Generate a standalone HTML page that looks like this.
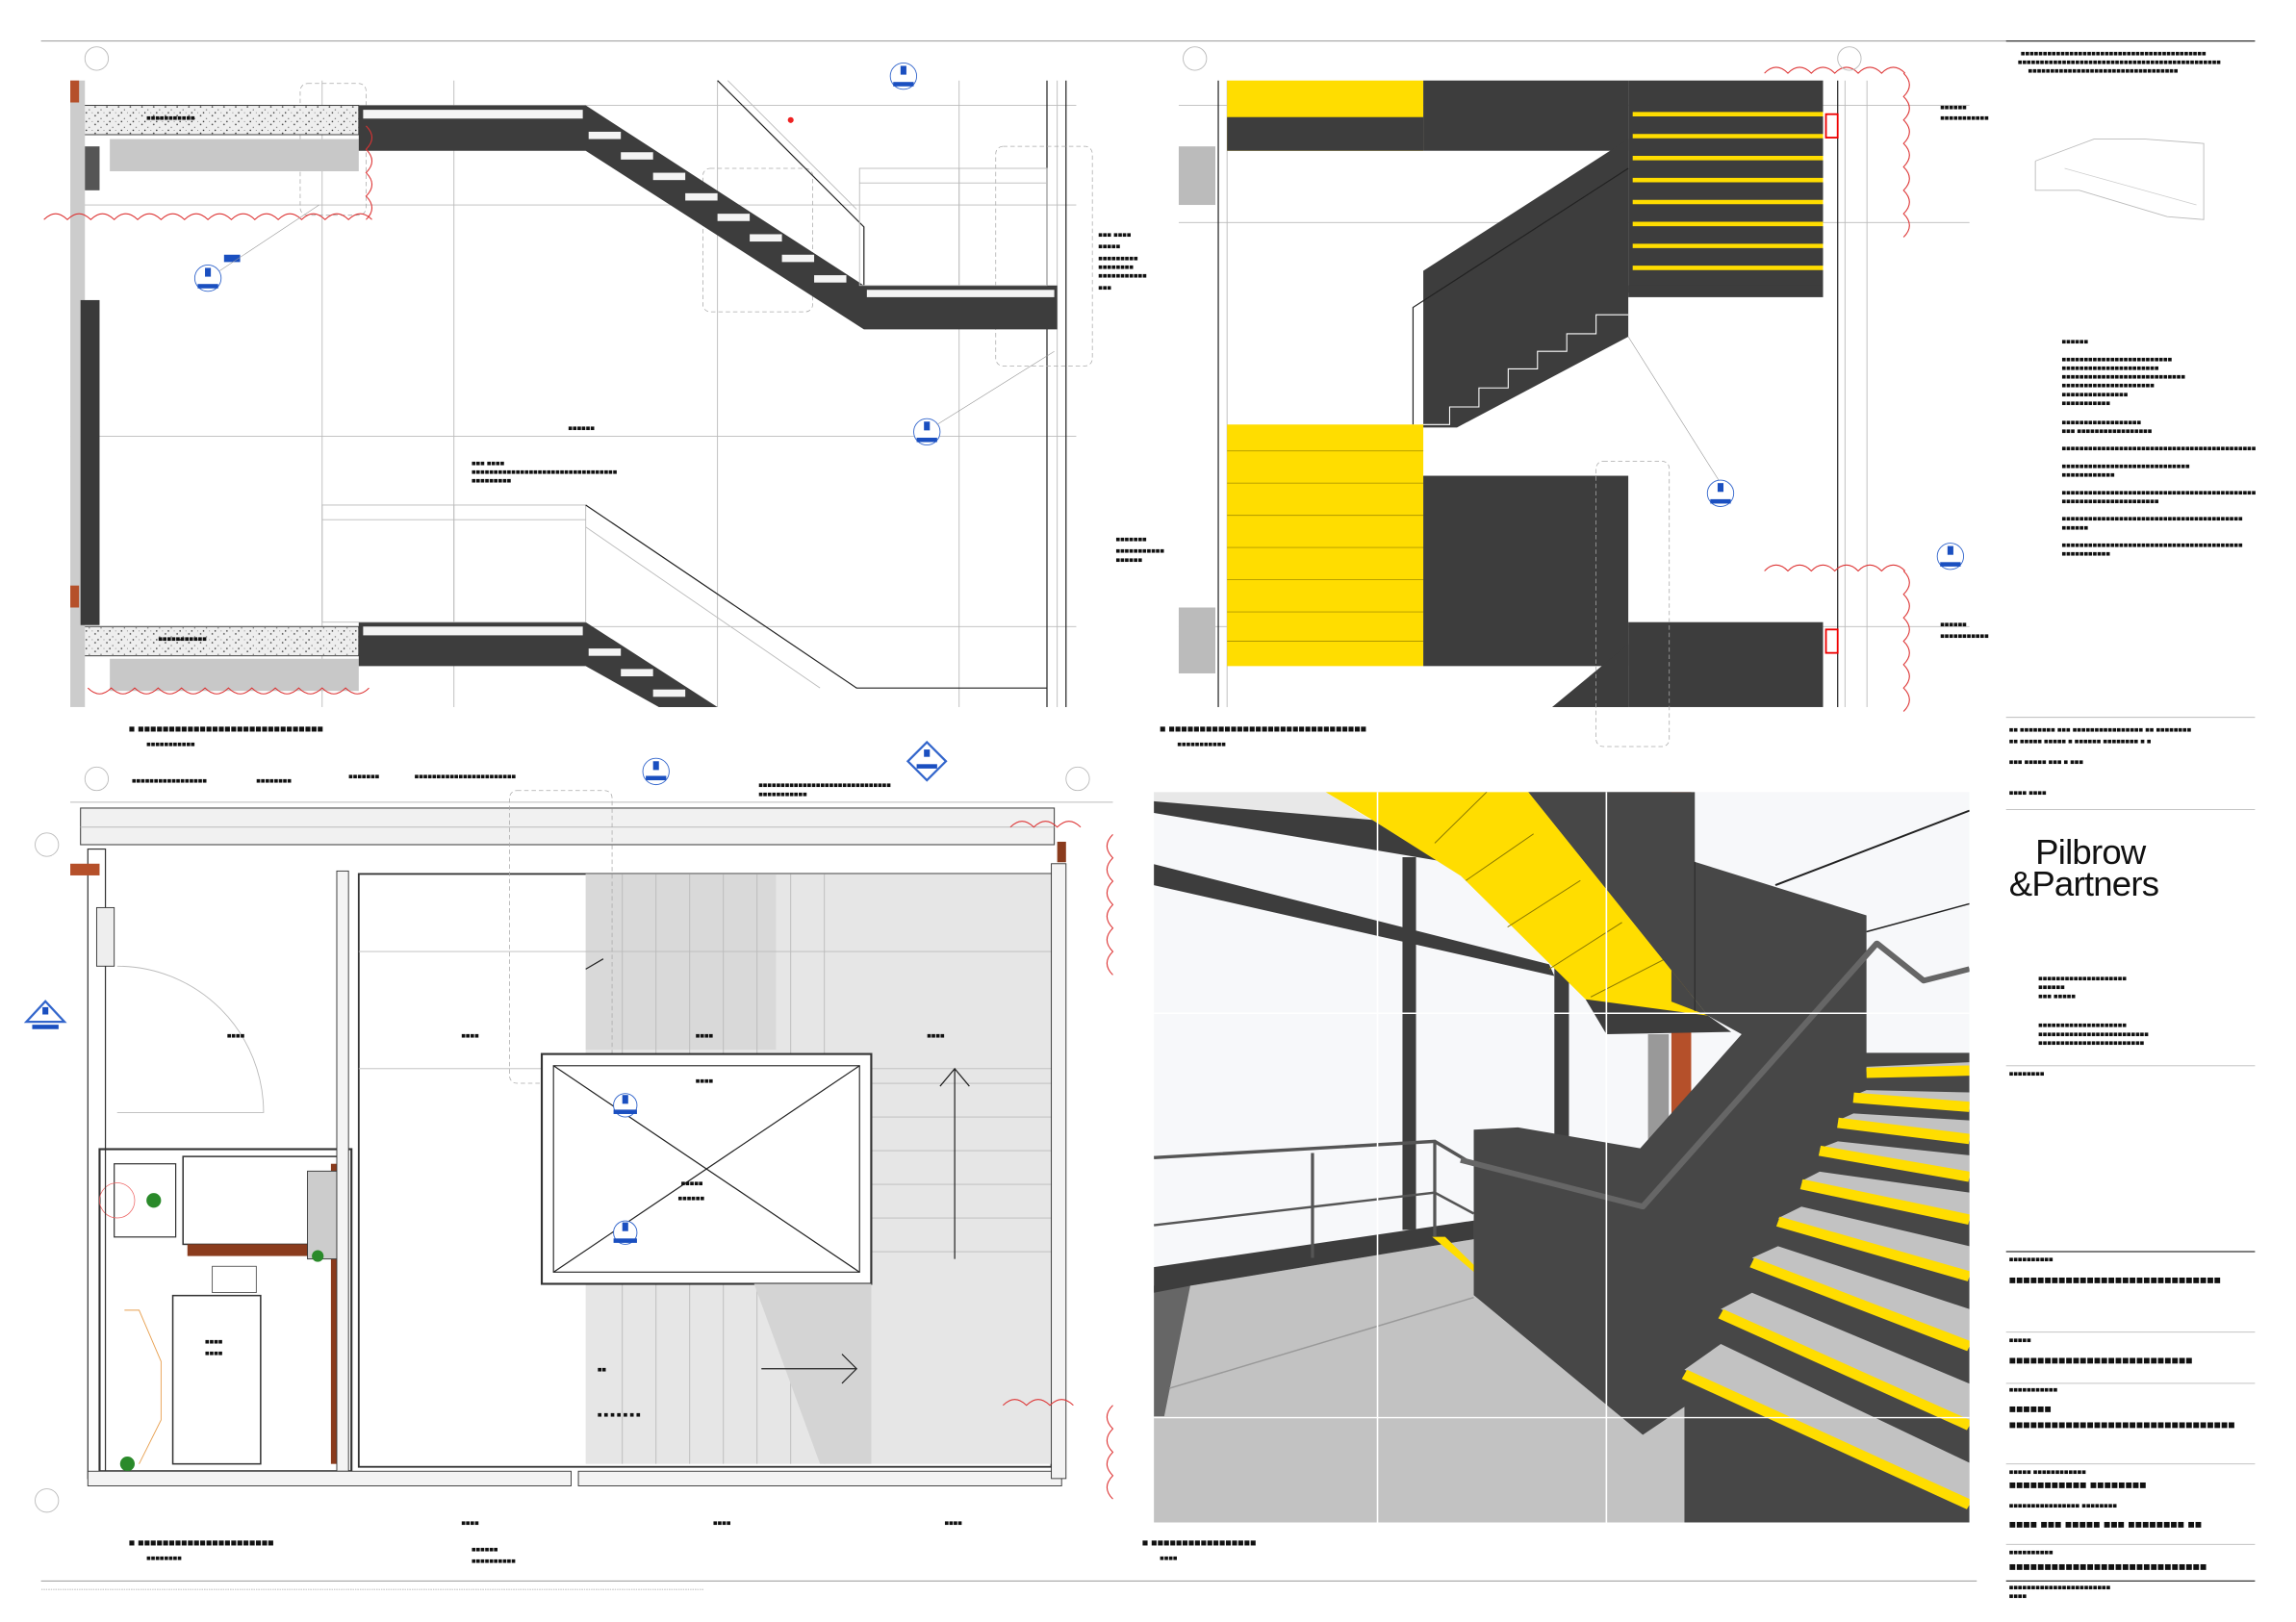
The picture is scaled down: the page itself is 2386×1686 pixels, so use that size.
<!DOCTYPE html>
<html><head><meta charset="utf-8"><style>
html,body{margin:0;padding:0;background:#fff;}
svg{display:block;}
text{font-family:"Liberation Sans",sans-serif;}
.t{font-size:5px;fill:#111;}
.g{stroke:#bbb;stroke-width:.6;fill:none;}
.k{stroke:#222;stroke-width:.8;fill:none;}
.r{stroke:#d33;stroke-width:.7;fill:none;}
</style></head><body>
<svg width="2386" height="1686" viewBox="0 0 1568 1108" preserveAspectRatio="none" xmlns="http://www.w3.org/2000/svg">
<defs>
<pattern id="sp" width="8" height="6" patternUnits="userSpaceOnUse"><rect width="8" height="6" fill="#eee"/><circle cx="1" cy="1" r=".5" fill="#333"/><circle cx="5" cy="3" r=".4" fill="#555"/><circle cx="3" cy="5" r=".5" fill="#222"/><circle cx="7" cy="5" r=".3" fill="#444"/></pattern>
</defs>
<rect width="1568" height="1108" fill="#fff"/>
<line x1="28" y1="28" x2="1540" y2="28" stroke="#999" stroke-width=".6"/>
<line x1="28" y1="1080" x2="1350" y2="1080" stroke="#999" stroke-width=".6"/>
<text x="28" y="1086" class="t" style="font-size:4px;fill:#666">........................................................................................................................................................................................................................................................................................................................................................................................................................</text>

<!-- ===== Top-left section ===== -->
<g>
<line x1="48" y1="72" x2="735" y2="72" class="g"/><line x1="48" y1="428" x2="735" y2="428" class="g"/>
<line x1="48" y1="140" x2="735" y2="140" class="g"/><line x1="48" y1="298" x2="735" y2="298" class="g"/>
<line x1="220" y1="55" x2="220" y2="483" class="g"/><line x1="310" y1="55" x2="310" y2="483" class="g"/>
<line x1="490" y1="55" x2="490" y2="483" class="g"/><line x1="655" y1="55" x2="655" y2="483" class="g"/>
<line x1="715" y1="55" x2="715" y2="483" class="k"/><line x1="722" y1="55" x2="722" y2="483" class="g"/>
<line x1="728" y1="55" x2="728" y2="483" class="k"/>
<rect x="205" y="57" width="45" height="90" rx="5" fill="none" stroke="#aaa" stroke-width=".5" stroke-dasharray="3,2"/>
<rect x="480" y="115" width="75" height="98" rx="5" fill="none" stroke="#aaa" stroke-width=".5" stroke-dasharray="3,2"/>
<rect x="680" y="100" width="66" height="150" rx="5" fill="none" stroke="#aaa" stroke-width=".5" stroke-dasharray="3,2"/>
<rect x="55" y="72" width="190" height="20" fill="url(#sp)" stroke="#333" stroke-width=".6"/>
<rect x="75" y="95" width="170" height="22" fill="#c8c8c8"/>
<rect x="55" y="428" width="190" height="20" fill="url(#sp)" stroke="#333" stroke-width=".6"/>
<rect x="75" y="450" width="170" height="22" fill="#c8c8c8"/>
<rect x="48" y="55" width="10" height="428" fill="#ccc"/>
<rect x="55" y="205" width="13" height="222" fill="#3a3a3a"/>
<rect x="58" y="100" width="10" height="30" fill="#555"/>
<rect x="48" y="55" width="6" height="15" fill="#b5502a"/><rect x="48" y="400" width="6" height="15" fill="#b5502a"/>
<polygon points="245,72 400,72 590,195 722,195 722,225 590,225 400,103 245,103" fill="#3d3d3d"/>
<rect x="248" y="75" width="150" height="6" fill="#f4f4f4"/>
<polygon points="245,425 400,425 490,483 450,483 400,455 245,455" fill="#3d3d3d"/>
<rect x="248" y="428" width="150" height="6" fill="#f4f4f4"/>
<g fill="#f4f4f4"><rect x="402" y="90" width="22" height="5"/><rect x="424" y="104" width="22" height="5"/><rect x="446" y="118" width="22" height="5"/><rect x="468" y="132" width="22" height="5"/><rect x="490" y="146" width="22" height="5"/><rect x="512" y="160" width="22" height="5"/><rect x="534" y="174" width="22" height="5"/><rect x="556" y="188" width="22" height="5"/><rect x="592" y="198" width="128" height="5"/>
<rect x="402" y="443" width="22" height="5"/><rect x="424" y="457" width="22" height="5"/><rect x="446" y="471" width="22" height="5"/></g>
<polyline points="490,55 590,155 590,195" class="k"/><polyline points="497,55 585,143" class="g"/>
<rect x="587" y="115" width="128" height="80" class="g" stroke="#888"/>
<line x1="587" y1="125" x2="715" y2="125" class="g"/><line x1="655" y1="115" x2="655" y2="195" class="g"/>
<rect x="220" y="345" width="180" height="80" class="g" stroke="#888"/>
<line x1="220" y1="355" x2="400" y2="355" class="g"/><line x1="310" y1="345" x2="310" y2="425" class="g"/>
<polyline points="400,345 585,470 715,470" class="k"/><polyline points="400,360 560,470" class="g"/>
<path d="M30,150 q8,-8 16,0 q8,-8 16,0 q8,-8 16,0 q8,-8 16,0 q8,-8 16,0 q8,-8 16,0 q8,-8 16,0 q8,-8 16,0 q8,-8 16,0 q8,-8 16,0 q8,-8 16,0 q8,-8 16,0 q8,-8 16,0 q8,-8 16,0 M250,150 q8,-8 0,-16 q8,-8 0,-16 q8,-8 0,-16 q8,-8 0,-16" class="r"/>
<path d="M60,470 q8,8 16,0 q8,8 16,0 q8,8 16,0 q8,8 16,0 q8,8 16,0 q8,8 16,0 q8,8 16,0 q8,8 16,0 q8,8 16,0 q8,8 16,0 q8,8 16,0 q8,8 16,0" class="r"/>
<circle cx="66" cy="40" r="8" class="g" stroke="#888"/>
<g fill="#fff" stroke="#36c" stroke-width=".6"><circle cx="617" cy="52" r="9"/><circle cx="142" cy="190" r="9"/><circle cx="633" cy="295" r="9"/></g>
<g fill="#1a4fc0"><rect x="615" y="45" width="4" height="6"/><rect x="610" y="56" width="14" height="3"/><rect x="140" y="183" width="4" height="6"/><rect x="135" y="194" width="14" height="3"/><rect x="631" y="288" width="4" height="6"/><rect x="626" y="299" width="14" height="3"/><rect x="153" y="174" width="11" height="5"/></g>
<line x1="150" y1="185" x2="218" y2="140" stroke="#999" stroke-width=".4"/>
<line x1="640" y1="290" x2="720" y2="240" stroke="#999" stroke-width=".4"/>
<circle cx="540" cy="82" r="2" fill="#e22"/>
<text x="100" y="82" class="t">■■■■■■■■■■■</text>
<text x="388" y="294" class="t">■■■■■■</text>
<text x="322" y="318" class="t">■■■ ■■■■</text><text x="322" y="324" class="t">■■■■■■■■■■■■■■■■■■■■■■■■■■■■■■■■■</text><text x="322" y="330" class="t">■■■■■■■■■</text>
<text x="108" y="438" class="t">■■■■■■■■■■■</text>
<text x="88" y="500" class="t" style="font-size:7px">■ ■■■■■■■■■■■■■■■■■■■■■■■■■■■■■■</text>
<text x="100" y="510" class="t">■■■■■■■■■■■</text>
<text x="750" y="162" class="t">■■■ ■■■■</text><text x="750" y="170" class="t">■■■■■</text><text x="750" y="178" class="t">■■■■■■■■■</text><text x="750" y="184" class="t">■■■■■■■■</text><text x="750" y="190" class="t">■■■■■■■■■■■</text><text x="750" y="198" class="t">■■■</text>
</g>

<!-- ===== Top-right section ===== -->
<g>
<line x1="805" y1="72" x2="1345" y2="72" class="g"/><line x1="805" y1="428" x2="1345" y2="428" class="g"/>
<line x1="805" y1="152" x2="1345" y2="152" class="g"/>
<line x1="832" y1="55" x2="832" y2="483" class="k"/><line x1="838" y1="55" x2="838" y2="483" class="g"/>
<line x1="1255" y1="55" x2="1255" y2="483" class="k"/><line x1="1260" y1="55" x2="1260" y2="483" class="g"/>
<line x1="1275" y1="55" x2="1275" y2="483" class="g"/>
<rect x="805" y="100" width="25" height="40" fill="#bbb"/><rect x="805" y="415" width="25" height="45" fill="#bbb"/>
<rect x="838" y="55" width="134" height="48" fill="#ffdd00"/>
<rect x="838" y="80" width="134" height="23" fill="#3d3d3d"/>
<rect x="972" y="55" width="140" height="48" fill="#3d3d3d"/>
<rect x="1112" y="55" width="133" height="145" fill="#3d3d3d"/>
<g stroke="#ffdd00" stroke-width="3">
<line x1="1115" y1="78" x2="1245" y2="78"/><line x1="1115" y1="93" x2="1245" y2="93"/><line x1="1115" y1="108" x2="1245" y2="108"/><line x1="1115" y1="123" x2="1245" y2="123"/><line x1="1115" y1="138" x2="1245" y2="138"/><line x1="1115" y1="153" x2="1245" y2="153"/><line x1="1115" y1="168" x2="1245" y2="168"/><line x1="1115" y1="183" x2="1245" y2="183"/>
<line x1="1115" y1="433" x2="1245" y2="433"/><line x1="1115" y1="448" x2="1245" y2="448"/><line x1="1115" y1="463" x2="1245" y2="463"/><line x1="1115" y1="478" x2="1245" y2="478"/>
</g>
<polygon points="972,185 1112,95 1112,230 995,292 972,292" fill="#3d3d3d"/>
<polyline points="972,290 990,290 990,278 1010,278 1010,265 1030,265 1030,252 1050,252 1050,240 1070,240 1070,228 1090,228 1090,215 1112,215" stroke="#fff" stroke-width=".7" fill="none"/>
<polyline points="965,290 965,210 1112,115" class="k" stroke-width=".6"/>
<rect x="1112" y="195" width="133" height="8" fill="#3d3d3d"/>
<rect x="838" y="290" width="134" height="165" fill="#ffdd00"/>
<g stroke="#b09800" stroke-width=".6"><line x1="838" y1="308" x2="972" y2="308"/><line x1="838" y1="330" x2="972" y2="330"/><line x1="838" y1="352" x2="972" y2="352"/><line x1="838" y1="374" x2="972" y2="374"/><line x1="838" y1="396" x2="972" y2="396"/><line x1="838" y1="418" x2="972" y2="418"/><line x1="838" y1="438" x2="972" y2="438"/></g>
<rect x="972" y="325" width="140" height="130" fill="#3d3d3d"/>
<rect x="1112" y="425" width="133" height="58" fill="#3d3d3d"/>
<polygon points="1060,483 1112,440 1112,483" fill="#3d3d3d"/>
<rect x="1090" y="315" width="50" height="195" rx="5" fill="none" stroke="#aaa" stroke-width=".5" stroke-dasharray="3,2"/>
<line x1="1112" y1="230" x2="1175" y2="330" stroke="#999" stroke-width=".4"/>
<rect x="1247" y="78" width="8" height="16" fill="none" stroke="#e00" stroke-width="1.2"/>
<rect x="1247" y="430" width="8" height="16" fill="none" stroke="#e00" stroke-width="1.2"/>
<path d="M1205,50 q8,-8 16,0 q8,-8 16,0 q8,-8 16,0 q8,-8 16,0 q8,-8 16,0 q8,-8 16,0 M1300,50 q8,8 0,16 q8,8 0,16 q8,8 0,16 q8,8 0,16 q8,8 0,16 q8,8 0,16 q8,8 0,16" class="r"/>
<path d="M1205,390 q8,-8 16,0 q8,-8 16,0 q8,-8 16,0 q8,-8 16,0 q8,-8 16,0 q8,-8 16,0 M1300,390 q8,8 0,16 q8,8 0,16 q8,8 0,16 q8,8 0,16 q8,8 0,16 q8,8 0,16" class="r"/>
<circle cx="816" cy="40" r="8" class="g" stroke="#888"/><circle cx="1263" cy="40" r="8" class="g" stroke="#888"/>
<g fill="#fff" stroke="#36c" stroke-width=".6"><circle cx="1175" cy="337" r="9"/><circle cx="1332" cy="380" r="9"/></g>
<g fill="#1a4fc0"><rect x="1173" y="330" width="4" height="6"/><rect x="1168" y="341" width="14" height="3"/><rect x="1330" y="373" width="4" height="6"/><rect x="1325" y="384" width="14" height="3"/></g>
<text x="1325" y="75" class="t">■■■■■■</text><text x="1325" y="82" class="t">■■■■■■■■■■■</text>
<text x="1325" y="428" class="t">■■■■■■</text><text x="1325" y="436" class="t">■■■■■■■■■■■</text>
<text x="762" y="370" class="t">■■■■■■■</text><text x="762" y="378" class="t">■■■■■■■■■■■</text><text x="762" y="384" class="t">■■■■■■</text>
<text x="792" y="500" class="t" style="font-size:7px">■ ■■■■■■■■■■■■■■■■■■■■■■■■■■■■■■■■</text>
<text x="804" y="510" class="t">■■■■■■■■■■■</text>
</g>

<!-- ===== Bottom-left plan ===== -->
<g>
<line x1="48" y1="548" x2="760" y2="548" class="g"/>
<rect x="55" y="552" width="665" height="25" fill="#f1f1f1" stroke="#444" stroke-width=".7"/>
<line x1="55" y1="565" x2="720" y2="565" class="g"/>
<rect x="245" y="597" width="473" height="405" fill="#fff" stroke="#333" stroke-width="1.2"/>
<rect x="400" y="597" width="318" height="403" fill="#e6e6e6"/>
<rect x="400" y="597" width="130" height="120" fill="#d9d9d9"/>
<g class="g"><line x1="425" y1="597" x2="425" y2="1000"/><line x1="448" y1="597" x2="448" y2="1000"/><line x1="471" y1="597" x2="471" y2="1000"/><line x1="494" y1="597" x2="494" y2="1000"/><line x1="517" y1="597" x2="517" y2="1000"/><line x1="540" y1="597" x2="540" y2="1000"/><line x1="563" y1="597" x2="563" y2="1000"/>
<line x1="595" y1="740" x2="718" y2="740"/><line x1="595" y1="763" x2="718" y2="763"/><line x1="595" y1="786" x2="718" y2="786"/><line x1="595" y1="809" x2="718" y2="809"/><line x1="595" y1="832" x2="718" y2="832"/><line x1="595" y1="855" x2="718" y2="855"/>
<line x1="245" y1="650" x2="718" y2="650"/><line x1="245" y1="730" x2="718" y2="730"/></g>
<rect x="348" y="540" width="70" height="200" rx="5" fill="none" stroke="#aaa" stroke-width=".5" stroke-dasharray="3,2"/>
<rect x="370" y="720" width="225" height="157" fill="#fff" stroke="#333" stroke-width="1.4"/>
<rect x="378" y="728" width="209" height="141" fill="#fff" stroke="#333" stroke-width=".8"/>
<line x1="378" y1="728" x2="587" y2="869" class="k" stroke-width=".5"/><line x1="587" y1="728" x2="378" y2="869" class="k" stroke-width=".5"/>
<polygon points="515,877 595,877 595,1000 560,1000" fill="#d4d4d4"/>
<polyline points="400,662 412,655 M400,662 412,669" class="k"/>
<line x1="652" y1="730" x2="652" y2="860" class="k" stroke-width=".5"/><polyline points="642,742 652,730 662,742" class="k" stroke-width=".5"/>
<line x1="520" y1="935" x2="585" y2="935" class="k" stroke-width=".5"/><polyline points="575,925 585,935 575,945" class="k" stroke-width=".5"/>
<rect x="68" y="785" width="172" height="220" fill="none" stroke="#333" stroke-width="1.4"/>
<rect x="125" y="790" width="110" height="60" fill="none" stroke="#333"/>
<rect x="128" y="850" width="97" height="8" fill="#8a3b1d"/>
<rect x="226" y="795" width="5" height="205" fill="#8a3b1d"/>
<rect x="210" y="800" width="20" height="60" fill="#ccc" stroke="#333" stroke-width=".6"/>
<rect x="78" y="795" width="42" height="50" fill="none" stroke="#333" stroke-width=".8"/>
<circle cx="80" cy="820" r="12" fill="none" stroke="#e66" stroke-width=".5"/>
<circle cx="105" cy="820" r="5" fill="#2a8a2a"/>
<circle cx="87" cy="1000" r="5" fill="#2a8a2a"/><circle cx="217" cy="858" r="4" fill="#2a8a2a"/>
<polyline points="85,895 95,895 110,930 110,970 95,1000" fill="none" stroke="#e8a050" stroke-width=".6"/>
<rect x="118" y="885" width="60" height="115" fill="#fff" stroke="#333"/>
<rect x="145" y="865" width="30" height="18" fill="none" stroke="#333" stroke-width=".5"/>
<rect x="230" y="595" width="8" height="410" fill="#f4f4f4" stroke="#333" stroke-width=".6"/>
<rect x="60" y="580" width="12" height="430" fill="none" stroke="#333" stroke-width=".8"/>
<rect x="66" y="620" width="12" height="40" fill="#eee" stroke="#333" stroke-width=".6"/>
<rect x="48" y="590" width="20" height="8" fill="#b5502a"/>
<path d="M80,660 A100,100 0 0 1 180,760 L80,760" class="g" stroke="#888"/>
<rect x="60" y="1005" width="330" height="10" fill="#f3f3f3" stroke="#333" stroke-width=".6"/>
<rect x="395" y="1005" width="330" height="10" fill="#f3f3f3" stroke="#333" stroke-width=".6"/>
<rect x="718" y="590" width="10" height="420" fill="#f3f3f3" stroke="#333" stroke-width=".6"/>
<rect x="722" y="575" width="6" height="14" fill="#8a3b1d"/>
<path d="M690,565 q8,-8 16,0 q8,-8 16,0 q8,-8 16,0 M760,570 q-8,8 0,16 q-8,8 0,16 q-8,8 0,16 q-8,8 0,16 q-8,8 0,16 q-8,8 0,16 M685,960 q8,-8 16,0 q8,-8 16,0 q8,-8 16,0 M760,960 q-8,8 0,16 q-8,8 0,16 q-8,8 0,16 q-8,8 0,16" class="r"/>
<circle cx="66" cy="532" r="8" class="g" stroke="#888"/><circle cx="736" cy="532" r="8" class="g" stroke="#888"/>
<circle cx="32" cy="577" r="8" class="g" stroke="#888"/><circle cx="32" cy="1025" r="8" class="g" stroke="#888"/>
<circle cx="448" cy="527" r="9" fill="#fff" stroke="#36c" stroke-width=".6"/>
<polygon points="620,520 633,507 646,520 633,533" fill="#fff" stroke="#36c" stroke-width="1.5"/>
<polygon points="18,698 31,684 44,698" fill="#fff" stroke="#36c" stroke-width="1.5"/>
<circle cx="427" cy="755" r="8" fill="#fff" stroke="#36c" stroke-width=".6"/>
<circle cx="427" cy="842" r="8" fill="#fff" stroke="#36c" stroke-width=".6"/>
<g fill="#1a4fc0"><rect x="446" y="520" width="4" height="6"/><rect x="441" y="530" width="14" height="3"/><rect x="425" y="748" width="4" height="6"/><rect x="419" y="758" width="16" height="3"/><rect x="425" y="835" width="4" height="6"/><rect x="419" y="846" width="16" height="3"/><rect x="631" y="512" width="4" height="5"/><rect x="626" y="522" width="14" height="3"/><rect x="29" y="688" width="4" height="5"/><rect x="22" y="700" width="18" height="3"/></g>
<text x="90" y="535" class="t">■■■■■■■■■■■■■■■■■</text><text x="175" y="535" class="t">■■■■■■■■</text><text x="238" y="532" class="t">■■■■■■■</text><text x="283" y="532" class="t">■■■■■■■■■■■■■■■■■■■■■■■</text><text x="518" y="538" class="t">■■■■■■■■■■■■■■■■■■■■■■■■■■■■■■</text><text x="518" y="544" class="t">■■■■■■■■■■■</text>
<text x="155" y="709" class="t">■■■■</text><text x="315" y="709" class="t">■■■■</text><text x="475" y="709" class="t">■■■■</text><text x="633" y="709" class="t">■■■■</text>
<text x="475" y="740" class="t">■■■■</text><text x="465" y="810" class="t">■■■■■</text><text x="463" y="820" class="t">■■■■■■</text>
<text x="140" y="918" class="t">■■■■</text><text x="140" y="926" class="t">■■■■</text>
<text x="408" y="937" class="t">■■</text><text x="408" y="968" class="t">■   ■   ■   ■   ■   ■   ■</text>
<text x="88" y="1056" class="t" style="font-size:7px">■ ■■■■■■■■■■■■■■■■■■■■■■</text>
<text x="100" y="1066" class="t">■■■■■■■■</text><text x="322" y="1060" class="t">■■■■■■</text><text x="322" y="1068" class="t">■■■■■■■■■■</text>
<text x="315" y="1042" class="t">■■■■</text><text x="487" y="1042" class="t">■■■■</text><text x="645" y="1042" class="t">■■■■</text>
</g>

<!-- ===== 3D render ===== -->
<svg x="788" y="541" width="557" height="499" viewBox="0 0 1568 1568" preserveAspectRatio="none">
<rect width="1568" height="1568" fill="#f7f8fa"/>
<!-- top band & frames -->
<polygon points="0,0 330,0 590,180 560,140 0,20" fill="#e8e8e8"/>
<polygon points="0,20 420,60 600,185 560,150 0,45" fill="#3d3d3d"/>
<polygon points="0,155 760,370 770,395 0,200" fill="#3d3d3d"/>
<rect x="478" y="140" width="26" height="800" fill="#3d3d3d"/>
<rect x="770" y="370" width="28" height="380" fill="#3d3d3d"/>
<rect x="950" y="520" width="40" height="250" fill="#999"/>
<rect x="995" y="0" width="38" height="690" fill="#b5502a"/>
<!-- yellow underside -->
<polygon points="330,0 720,0 1065,480 1000,495 830,445 590,180 420,60" fill="#ffdd00"/>
<g stroke="#8a7800" stroke-width="2"><line x1="540" y1="110" x2="640" y2="0"/><line x1="600" y1="190" x2="730" y2="90"/><line x1="680" y1="290" x2="820" y2="190"/><line x1="760" y1="380" x2="900" y2="280"/><line x1="840" y1="440" x2="980" y2="360"/></g>
<polygon points="830,445 1065,480 1110,515 870,520" fill="#3d3d3d"/>
<!-- floor -->
<polygon points="70,1060 615,960 615,1080 940,1380 1020,1320 1020,1568 0,1568 0,1340" fill="#c2c2c2"/>
<polygon points="0,1060 70,1060 20,1340 0,1340" fill="#666"/>
<polygon points="0,1020 615,920 615,960 70,1060 0,1075" fill="#3d3d3d"/>
<polygon points="535,955 560,955 615,1015 615,1030" fill="#ffdd00"/>
<line x1="30" y1="1280" x2="615" y2="1085" stroke="#999" stroke-width="3"/>
<!-- railings -->
<polyline points="0,785 540,750 615,800" fill="none" stroke="#555" stroke-width="7"/>
<polyline points="0,930 540,860 615,905" fill="none" stroke="#555" stroke-width="5"/>
<line x1="305" y1="775" x2="305" y2="1000" stroke="#555" stroke-width="6"/>
<line x1="540" y1="750" x2="540" y2="955" stroke="#555" stroke-width="6"/>
<!-- dark mass -->
<polygon points="720,0 1040,0 1040,150 1370,265 1370,560 1568,560 1568,1568 1020,1568 1020,1320 940,1380 615,1080 615,725 700,720 935,765 1130,520 1065,480" fill="#474747"/>
<polygon points="720,0 995,0 995,450 1065,480" fill="#474747"/>
<line x1="1040" y1="150" x2="1040" y2="470" stroke="#2a2a2a" stroke-width="2"/>
<!-- stairs -->
<g fill="#c2c2c2">
<polygon points="1020,1240 1568,1520 1568,1440 1090,1185"/>
<polygon points="1090,1110 1568,1350 1568,1270 1150,1075"/>
<polygon points="1150,1000 1568,1180 1568,1110 1200,975"/>
<polygon points="1200,915 1568,1030 1568,975 1245,890"/>
<polygon points="1245,835 1568,910 1568,860 1280,815"/>
<polygon points="1280,765 1568,820 1568,780 1315,750"/>
<polygon points="1315,705 1568,740 1568,705 1345,690"/>
<polygon points="1345,652 1568,672 1568,645 1370,640"/>
<polygon points="1370,600 1568,595 1568,580 1370,590"/>
</g>
<g stroke="#ffdd00" stroke-width="22">
<line x1="1020" y1="1250" x2="1568" y2="1530"/><line x1="1090" y1="1120" x2="1568" y2="1360"/><line x1="1150" y1="1010" x2="1568" y2="1190"/><line x1="1200" y1="922" x2="1568" y2="1040"/><line x1="1245" y1="842" x2="1568" y2="918"/><line x1="1280" y1="770" x2="1568" y2="826"/><line x1="1315" y1="710" x2="1568" y2="745"/><line x1="1345" y1="656" x2="1568" y2="676"/><line x1="1370" y1="603" x2="1568" y2="598"/>
</g>
<!-- handrail -->
<polyline points="590,790 940,890 1390,325 1480,405 1568,380" fill="none" stroke="#666" stroke-width="12" stroke-linejoin="round"/>
<line x1="1195" y1="200" x2="1568" y2="40" stroke="#222" stroke-width="4"/>
<line x1="1370" y1="300" x2="1568" y2="240" stroke="#222" stroke-width="3"/>
<!-- grid overlay -->
<g stroke="#fff" stroke-width="3"><line x1="430" y1="0" x2="430" y2="1568"/><line x1="870" y1="0" x2="870" y2="1568"/><line x1="0" y1="475" x2="1568" y2="475"/><line x1="0" y1="1343" x2="1568" y2="1343"/></g>
</svg>
<text x="780" y="1056" class="t" style="font-size:7px">■ ■■■■■■■■■■■■■■■■■</text><text x="792" y="1066" class="t">■■■■</text>

<!-- ===== Title block ===== -->
<g>
<line x1="1370" y1="28" x2="1540" y2="28" stroke="#333" stroke-width=".8"/>
<text x="1380" y="38" class="t">■■■■■■■■■■■■■■■■■■■■■■■■■■■■■■■■■■■■■■■■■■</text>
<text x="1378" y="44" class="t">■■■■■■■■■■■■■■■■■■■■■■■■■■■■■■■■■■■■■■■■■■■■■■</text>
<text x="1385" y="50" class="t">■■■■■■■■■■■■■■■■■■■■■■■■■■■■■■■■■■</text>
<polyline points="1390,110 1430,95 1465,95 1505,98 1505,150 1480,148 1420,130 1390,130 1390,110" fill="none" stroke="#bbb" stroke-width=".6"/>
<polyline points="1410,115 1500,140 M1415,120 1500,145" fill="none" stroke="#ccc" stroke-width=".5"/>
<text x="1408" y="235" class="t">■■■■■■</text>
<text x="1408" y="247" class="t">■■■■■■■■■■■■■■■■■■■■■■■■■</text><text x="1408" y="253" class="t">■■■■■■■■■■■■■■■■■■■■■■</text><text x="1408" y="259" class="t">■■■■■■■■■■■■■■■■■■■■■■■■■■■■</text><text x="1408" y="265" class="t">■■■■■■■■■■■■■■■■■■■■■</text><text x="1408" y="271" class="t">■■■■■■■■■■■■■■■</text><text x="1408" y="277" class="t">■■■■■■■■■■■</text>
<text x="1408" y="290" class="t">■■■■■■■■■■■■■■■■■■</text><text x="1408" y="296" class="t">■■■ ■■■■■■■■■■■■■■■■■</text>
<text x="1408" y="308" class="t">■■■■■■■■■■■■■■■■■■■■■■■■■■■■■■■■■■■■■■■■■■■■</text>
<text x="1408" y="320" class="t">■■■■■■■■■■■■■■■■■■■■■■■■■■■■■</text><text x="1408" y="326" class="t">■■■■■■■■■■■■</text>
<text x="1408" y="338" class="t">■■■■■■■■■■■■■■■■■■■■■■■■■■■■■■■■■■■■■■■■■■■■</text><text x="1408" y="344" class="t">■■■■■■■■■■■■■■■■■■■■■■</text>
<text x="1408" y="356" class="t">■■■■■■■■■■■■■■■■■■■■■■■■■■■■■■■■■■■■■■■■■</text><text x="1408" y="362" class="t">■■■■■■</text>
<text x="1408" y="374" class="t">■■■■■■■■■■■■■■■■■■■■■■■■■■■■■■■■■■■■■■■■■</text><text x="1408" y="380" class="t">■■■■■■■■■■■</text>
<line x1="1370" y1="490" x2="1540" y2="490" stroke="#bbb" stroke-width=".6"/>
<text x="1372" y="500" class="t">■■ ■■■■■■■■ ■■■ ■■■■■■■■■■■■■■■■ ■■   ■■■■■■■■</text>
<text x="1372" y="508" class="t">■■ ■■■■■ ■■■■■ ■ ■■■■■■                    ■■■■■■■■  ■ ■</text>
<text x="1372" y="522" class="t">■■■  ■■■■■                                   ■■■ ■  ■■■</text>
<text x="1372" y="543" class="t">■■■■ ■■■■</text>
<line x1="1370" y1="553" x2="1540" y2="553" stroke="#bbb" stroke-width=".6"/>
<text x="1390" y="590" style="font-size:24px;fill:#111;letter-spacing:-.5px">Pilbrow</text>
<text x="1372" y="612" style="font-size:24px;fill:#111;letter-spacing:-.5px">&amp;Partners</text>
<text x="1392" y="670" class="t">■■■■■■■■■■■■■■■■■■■■</text><text x="1392" y="676" class="t">■■■■■■</text><text x="1392" y="682" class="t">■■■ ■■■■■</text>
<text x="1392" y="702" class="t">■■■■■■■■■■■■■■■■■■■■</text><text x="1392" y="708" class="t">■■■■■■■■■■■■■■■■■■■■■■■■■</text><text x="1392" y="714" class="t">■■■■■■■■■■■■■■■■■■■■■■■■</text>
<line x1="1370" y1="728" x2="1540" y2="728" stroke="#bbb" stroke-width=".6"/>
<text x="1372" y="735" class="t">■■■■■■■■</text>
<line x1="1370" y1="855" x2="1540" y2="855" stroke="#333" stroke-width=".8"/>
<text x="1372" y="862" class="t">■■■■■■■■■■</text>
<text x="1372" y="877" class="t" style="font-size:8px">■■■■■■■■■■■■■■■■■■■■■■■■■■■■■■</text>
<line x1="1370" y1="910" x2="1540" y2="910" stroke="#bbb" stroke-width=".6"/>
<text x="1372" y="917" class="t">■■■■■</text>
<text x="1372" y="932" class="t" style="font-size:8px">■■■■■■■■■■■■■■■■■■■■■■■■■■</text>
<line x1="1370" y1="945" x2="1540" y2="945" stroke="#bbb" stroke-width=".6"/>
<text x="1372" y="951" class="t">■■■■■■■■■■■</text>
<text x="1372" y="965" class="t" style="font-size:8px">■■■■■■</text>
<text x="1372" y="976" class="t" style="font-size:8px">■■■■■■■■■■■■■■■■■■■■■■■■■■■■■■■■</text>
<line x1="1370" y1="1000" x2="1540" y2="1000" stroke="#bbb" stroke-width=".6"/>
<text x="1372" y="1007" class="t">■■■■■                                        ■■■■■■■■■■■■</text>
<text x="1372" y="1017" class="t" style="font-size:8px">■■■■■■■■■■■               ■■■■■■■■</text>
<text x="1372" y="1030" class="t">■■■■■■■■■■■■■■■■                        ■■■■■■■■</text>
<text x="1372" y="1044" class="t" style="font-size:8px">■■■■ ■■■ ■■■■■ ■■■ ■■■■■■■■    ■■</text>
<line x1="1370" y1="1055" x2="1540" y2="1055" stroke="#bbb" stroke-width=".6"/>
<text x="1372" y="1062" class="t">■■■■■■■■■■</text>
<text x="1372" y="1073" class="t" style="font-size:8px">■■■■■■■■■■■■■■■■■■■■■■■■■■■■</text>
<line x1="1370" y1="1080" x2="1540" y2="1080" stroke="#333" stroke-width=".8"/>
<text x="1372" y="1086" class="t">■■■■■■■■■■■■■■■■■■■■■■■</text><text x="1372" y="1092" class="t">■■■■</text>
</g>
</svg>
</body></html>
